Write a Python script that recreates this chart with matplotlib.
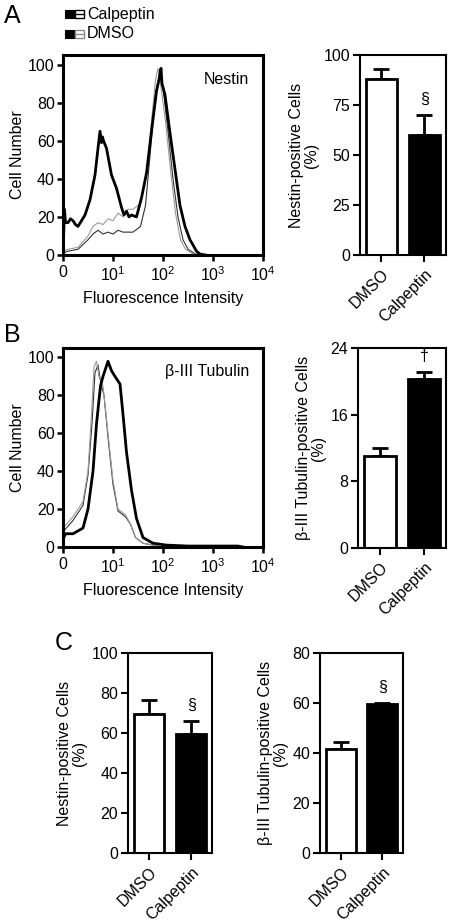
import numpy as np
import matplotlib
matplotlib.use('Agg')
import matplotlib.pyplot as plt
from matplotlib.patches import Rectangle

plt.rcParams['font.family'] = ['Liberation Sans', 'DejaVu Sans']
plt.rcParams['mathtext.fontset'] = 'custom'
plt.rcParams['mathtext.rm'] = 'Liberation Sans'
FS = 11.5

# histogram data, x in decades (log10 of intensity)
nes_calp_x = [0.0, 0.03, 0.05, 0.1, 0.15, 0.2, 0.25, 0.3, 0.44, 0.54, 0.64, 0.70, 0.74, 0.77, 0.79,
              0.81, 0.87, 0.97, 1.07, 1.17, 1.22, 1.27, 1.32, 1.37, 1.47, 1.57, 1.67, 1.77, 1.87,
              1.92, 1.96, 1.98, 2.0, 2.04, 2.14, 2.24, 2.34, 2.44, 2.54, 2.67, 2.74, 2.85]
nes_calp_y = [0, 24, 17, 17, 19, 18, 16, 15, 21, 29, 42, 56, 65, 59, 62,
              60, 56, 42, 35, 25, 21, 23, 20, 21, 20, 30, 43, 65, 86,
              92, 98, 90, 88, 84, 64, 45, 26, 15, 8, 2, 0.5, 0]
nes_dmso_x = [0.0, 0.1, 0.3, 0.5, 0.6, 0.7, 0.8, 0.9, 1.0, 1.1, 1.2, 1.3, 1.4, 1.55, 1.67, 1.77,
              1.85, 1.9, 1.95, 2.05, 2.15, 2.25, 2.35, 2.45, 2.6, 2.8]
nes_dmso_y = [2, 3, 4, 10, 15, 17, 16, 19, 18, 22, 20, 24, 24, 27, 42, 70,
              92, 98, 90, 70, 45, 22, 8, 3, 0.5, 0]
nes_ctrl_x = [0.0, 0.1, 0.3, 0.5, 0.6, 0.7, 0.8, 0.9, 1.0, 1.1, 1.2, 1.3, 1.4, 1.55, 1.65, 1.75,
              1.85, 1.93, 2.0, 2.1, 2.2, 2.3, 2.4, 2.5, 2.65, 2.8]
nes_ctrl_y = [1, 2, 3, 8, 11, 13, 11, 12, 11, 13, 12, 12, 12, 15, 26, 55,
              85, 95, 88, 65, 40, 20, 8, 3, 0.5, 0]

tub_calp_x = [0.0, 0.05, 0.2, 0.4, 0.5, 0.6, 0.67, 0.75, 0.8, 0.9, 0.97, 1.04, 1.14, 1.2,
              1.27, 1.37, 1.47, 1.6, 1.8, 2.07, 2.5, 3.2, 3.5, 3.6]
tub_calp_y = [4, 7, 7, 10, 20, 40, 65, 85, 90, 98, 93, 90, 86, 70,
              50, 30, 15, 5, 2, 1, 0.5, 0.5, 0.5, 0]
tub_dmso_x = [0.0, 0.1, 0.2, 0.3, 0.4, 0.5, 0.57, 0.62, 0.67, 0.72, 0.8, 0.9, 1.0, 1.1,
              1.25, 1.35, 1.45, 1.6, 1.8, 2.0]
tub_dmso_y = [10, 13, 16, 20, 24, 40, 70, 95, 98, 90, 85, 60, 35, 20,
              17, 12, 5, 2, 1, 0]
tub_ctrl_x = [0.0, 0.1, 0.2, 0.3, 0.4, 0.5, 0.58, 0.64, 0.7, 0.76, 0.82, 0.9, 1.0, 1.1,
              1.25, 1.35, 1.45, 1.6, 1.8, 2.0]
tub_ctrl_y = [8, 11, 14, 18, 22, 38, 65, 92, 96, 86, 80, 58, 33, 19,
              16, 12, 5, 2, 1, 0]

# bar data
groups = ['DMSO', 'Calpeptin']
a_mean = [88, 60]
a_err = [5, 10]
b_mean = [11, 20.3]
b_err = [1, 0.8]
c_nes_mean = [69.5, 59.5]
c_nes_err = [7, 6.5]
c_tub_mean = [41.5, 59.5]
c_tub_err = [3, 0.5]
marks_a = ['', '§']
marks_b = ['', '†']
marks_c1 = ['', '§']
marks_c2 = ['', '§']

W, H = 452, 922
fig = plt.figure(figsize=(W / 100, H / 100), dpi=100)


def box(l, r, t, b):
    return fig.add_axes([l / W, 1 - b / H, (r - l) / W, (b - t) / H])


def histo(ax, curves, label):
    for x, y, c, lw in curves:
        ax.plot(10 ** np.array(x), y, color=c, lw=lw)
    ax.set_xscale('log')
    ax.set_xlim(1, 1e4)
    ax.set_ylim(0, 105)
    ax.set_xticks([1, 10, 100, 1000, 10000])
    ax.set_xticklabels(['0', '$10^1$', '$10^2$', '$10^3$', '$10^4$'], fontsize=FS)
    ax.minorticks_off()
    ax.set_yticks([0, 20, 40, 60, 80, 100])
    ax.tick_params(axis='y', labelsize=FS, pad=2)
    for s in ax.spines.values():
        s.set_linewidth(2.2)
    ax.tick_params(width=1.8, length=4, direction='out', top=False, right=False)
    ax.set_ylabel('Cell Number', fontsize=FS, labelpad=2)
    ax.set_xlabel('Fluorescence Intensity', fontsize=FS, labelpad=5)
    ax.text(0.93, 0.88, label, transform=ax.transAxes, ha='right', va='center', fontsize=FS)


def bars(ax, means, errs, marks, ticks, ylabel):
    xs = np.arange(len(means))
    ax.bar(xs, means, width=0.72, color=['white', 'black'], edgecolor='black', linewidth=2, zorder=2)
    for x, m, e, mk in zip(xs, means, errs, marks):
        ax.errorbar(x, m, yerr=[[0], [e]], color='black', capsize=6, capthick=2, elinewidth=2, zorder=1)
        if mk:
            ax.text(x, m + e + ticks[-1] * 0.04, mk, ha='center', va='bottom', fontsize=FS)
    ax.set_xlim(-0.5, 1.5)
    ax.set_ylim(0, ticks[-1])
    ax.set_yticks(ticks)
    ax.set_xticks(xs)
    ax.set_xticklabels(groups, rotation=45, ha='right', rotation_mode='anchor', fontsize=FS)
    ax.tick_params(axis='y', labelsize=FS, pad=2)
    for s in ax.spines.values():
        s.set_linewidth(1.5)
    ax.tick_params(width=1.5, length=5, direction='out')
    ax.set_ylabel(ylabel, fontsize=FS, linespacing=1.0, labelpad=3)


ax1 = box(63, 263, 55, 255)
histo(ax1, [(nes_ctrl_x, nes_ctrl_y, '#333333', 0.8),
            (nes_dmso_x, nes_dmso_y, '#9a9a9a', 0.8),
            (nes_calp_x, nes_calp_y, 'black', 2.0)], 'Nestin')

ax2 = box(360, 446, 55, 255)
bars(ax2, a_mean, a_err, marks_a, [0, 25, 50, 75, 100], 'Nestin-positive Cells\n(%)')

ax3 = box(63, 263, 348, 547)
histo(ax3, [(tub_ctrl_x, tub_ctrl_y, '#333333', 0.8),
            (tub_dmso_x, tub_dmso_y, '#9a9a9a', 0.8),
            (tub_calp_x, tub_calp_y, 'black', 2.0)], 'β-III Tubulin')

ax4 = box(358, 446, 348, 548)
bars(ax4, b_mean, b_err, marks_b, [0, 8, 16, 24], 'β-III Tubulin-positive Cells\n(%)')

ax5 = box(128, 212, 653, 853)
bars(ax5, c_nes_mean, c_nes_err, marks_c1, [0, 20, 40, 60, 80, 100], 'Nestin-positive Cells\n(%)')

ax6 = box(320, 403, 653, 853)
bars(ax6, c_tub_mean, c_tub_err, marks_c2, [0, 20, 40, 60, 80], 'β-III Tubulin-positive Cells\n(%)')

# panel letters
fig.text(4 / W, 1 - 16 / H, 'A', fontsize=18, va='center')
fig.text(4 / W, 1 - 335 / H, 'B', fontsize=18, va='center')
fig.text(55 / W, 1 - 643 / H, 'C', fontsize=18, va='center')

# legend
for yy, txt, edge in [(14, 'Calpeptin', 'black'), (34, 'DMSO', '#8a8a8a')]:
    fig.patches.append(Rectangle((65 / W, 1 - (yy + 4) / H), 10 / W, 8 / H, transform=fig.transFigure,
                                 facecolor='black', edgecolor='black', lw=0.8))
    fig.patches.append(Rectangle((75 / W, 1 - (yy + 4) / H), 9 / W, 8 / H, transform=fig.transFigure,
                                 facecolor='white', edgecolor=edge, lw=1.0))
    fig.lines.append(plt.Line2D([75 / W, 84 / W], [1 - yy / H, 1 - yy / H], transform=fig.transFigure,
                                color=edge, lw=1.0))
    fig.text(87 / W, 1 - yy / H, txt, fontsize=FS, va='center')

fig.savefig('out.png', dpi=100)
